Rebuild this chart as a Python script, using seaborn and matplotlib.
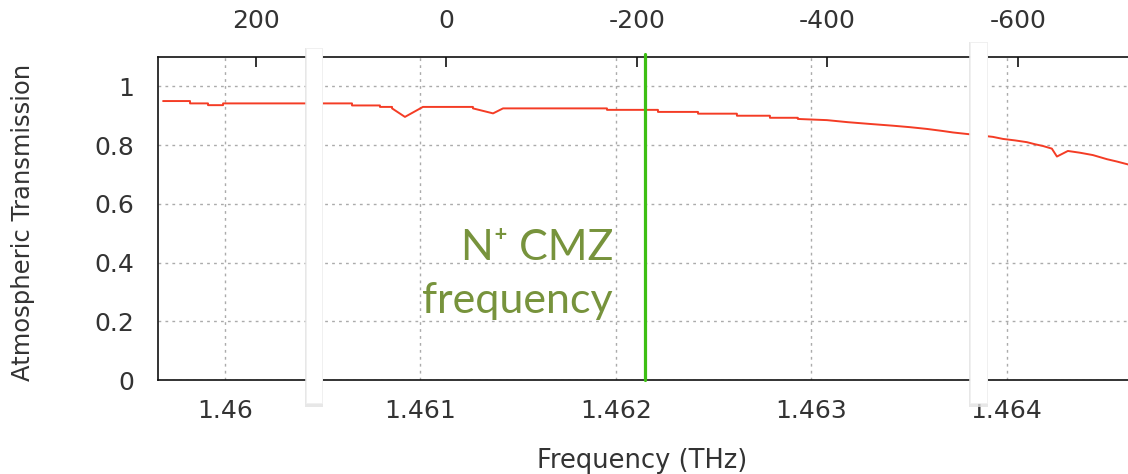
import numpy as np
import pandas as pd
import matplotlib
matplotlib.use("Agg")
import matplotlib.pyplot as plt
import seaborn as sns
from matplotlib.patches import Rectangle

# ---------------- data ----------------
freq_thz = [
    1.459683, 1.459821, 1.459821, 1.459913, 1.459913, 1.459990, 1.459990,
    1.460650, 1.460650, 1.460793, 1.460793, 1.460855, 1.460855, 1.460921,
    1.461013, 1.461269, 1.461269, 1.461372, 1.461423, 1.461955, 1.461955,
    1.462216, 1.462216, 1.462421, 1.462421, 1.462620, 1.462620, 1.462789,
    1.462789, 1.462932, 1.462932, 1.463081, 1.463188, 1.463301, 1.463419,
    1.463506, 1.463593, 1.463674, 1.463726, 1.463864, 1.463930, 1.463982,
    1.464043, 1.464104, 1.464145, 1.464186, 1.464232, 1.464258, 1.464314,
    1.464376, 1.464442, 1.464514, 1.464565, 1.464640,
]
transmission = [
    0.950, 0.950, 0.942, 0.942, 0.936, 0.936, 0.942,
    0.942, 0.935, 0.935, 0.930, 0.930, 0.925, 0.896,
    0.930, 0.930, 0.925, 0.908, 0.925, 0.925, 0.920,
    0.920, 0.913, 0.913, 0.907, 0.907, 0.900, 0.900,
    0.893, 0.893, 0.889, 0.885, 0.878, 0.872, 0.866,
    0.861, 0.855, 0.848, 0.843, 0.833, 0.828, 0.821,
    0.816, 0.810, 0.803, 0.797, 0.788, 0.761, 0.780,
    0.774, 0.766, 0.752, 0.744, 0.731,
]
freq_ticks = [1.460, 1.461, 1.462, 1.463, 1.464]
freq_labels = ["1.46", "1.461", "1.462", "1.463", "1.464"]
trans_ticks = [0, 0.2, 0.4, 0.6, 0.8, 1]
trans_labels = ["0", "0.2", "0.4", "0.6", "0.8", "1"]
vel_ticks = [200, 0, -200, -400, -600]
vel_labels = ["200", "0", "-200", "-400", "-600"]
cmz_freq = 1.46215
rest_freq = 1.461133
C_KMS = 299792.458

# ---------------- style ----------------
sns.set_theme(style="white")
plt.rcParams["font.family"] = "DejaVu Sans"
plt.rcParams["font.sans-serif"] = ["DejaVu Sans"]
TXT = "#333333"
GRID = "#ababab"
DV = "DejaVu Sans"

W, H = 1128, 474
fig = plt.figure(figsize=(W / 100, H / 100), dpi=100)
ax = fig.add_axes([158 / W, 1 - 380 / H, 972 / W, 323 / H])

df = pd.DataFrame({"freq": freq_thz, "trans": transmission})
sns.lineplot(data=df, x="freq", y="trans", ax=ax, estimator=None, sort=False,
             color="#f43c25", linewidth=1.4, zorder=3)

ax.set_xlim(1.459657, 1.464632)
ax.set_ylim(0, 1.1)
ax.set_xticks(freq_ticks)
ax.set_xticklabels(freq_labels, family=DV)
ax.set_yticks(trans_ticks)
ax.set_yticklabels(trans_labels, family=DV)

ax.grid(True, color=GRID, linestyle=(0, (2.0, 3.0)), linewidth=1.0)
ax.tick_params(axis="x", direction="in", length=6, width=1.0, colors="#222222",
               labelsize=18, labelcolor=TXT, pad=14)
ax.tick_params(axis="y", direction="in", length=7, width=1.0, colors="#222222",
               labelsize=18, labelcolor=TXT, pad=17)

for side in ["left", "bottom", "top"]:
    ax.spines[side].set_color("#111111")
    ax.spines[side].set_linewidth(1.2)
ax.spines["right"].set_visible(False)

ax.set_xlabel("Frequency (THz)", fontsize=18.5, color=TXT, family=DV)
ax.set_ylabel("Atmospheric Transmission", fontsize=17.5, color=TXT, family=DV)
ax.xaxis.set_label_coords((642 - 158) / 972, (380 - 448) / 323)
ax.yaxis.set_label_coords((35 - 158) / 972, (380 - 222) / 323)


def f2v(f):
    return C_KMS * (rest_freq - np.asarray(f, dtype=float)) / rest_freq


def v2f(v):
    return rest_freq * (1 - np.asarray(v, dtype=float) / C_KMS)


secax = ax.secondary_xaxis("top", functions=(f2v, v2f))
secax.set_xticks(vel_ticks)
secax.set_xticklabels(vel_labels, family=DV)
secax.tick_params(axis="x", direction="in", length=7, width=1.2, colors="#111111",
                  labelsize=18, labelcolor=TXT, pad=17)
secax.spines["top"].set_visible(False)

# CMZ frequency marker
ax.axvline(cmz_freq, ymin=0, ymax=(380 - 54) / 323, color="#3dbf14",
           linewidth=2.3, clip_on=False, zorder=4)

olive = "#77933c"
fam = ["Lato", "Noto Sans", "DejaVu Sans"]
fig.text(613 / W, 1 - 260 / H, "N\u207a CMZ", ha="right", va="baseline",
         fontsize=31, color=olive, family=fam)
fig.text(613 / W, 1 - 313 / H, "frequency", ha="right", va="baseline",
         fontsize=31, color=olive, family=fam)

# white cut bars overlaying the chart
for x0, x1, ytop, ybot in [(306, 322, 48, 403), (970, 987, 42, 403)]:
    shadow = Rectangle(((x0 - 1) / W, 1 - (ybot + 4) / H), (x1 - x0 + 2) / W,
                       (ybot - ytop + 4) / H, transform=fig.transFigure,
                       facecolor="#e2e2e2", edgecolor="none", zorder=20, alpha=0.8)
    bar = Rectangle((x0 / W, 1 - ybot / H), (x1 - x0) / W, (ybot - ytop) / H,
                    transform=fig.transFigure, facecolor="white",
                    edgecolor="#f0f0f0", linewidth=0.6, zorder=21)
    fig.add_artist(shadow)
    fig.add_artist(bar)

fig.savefig("out.png", dpi=100, facecolor="white")
